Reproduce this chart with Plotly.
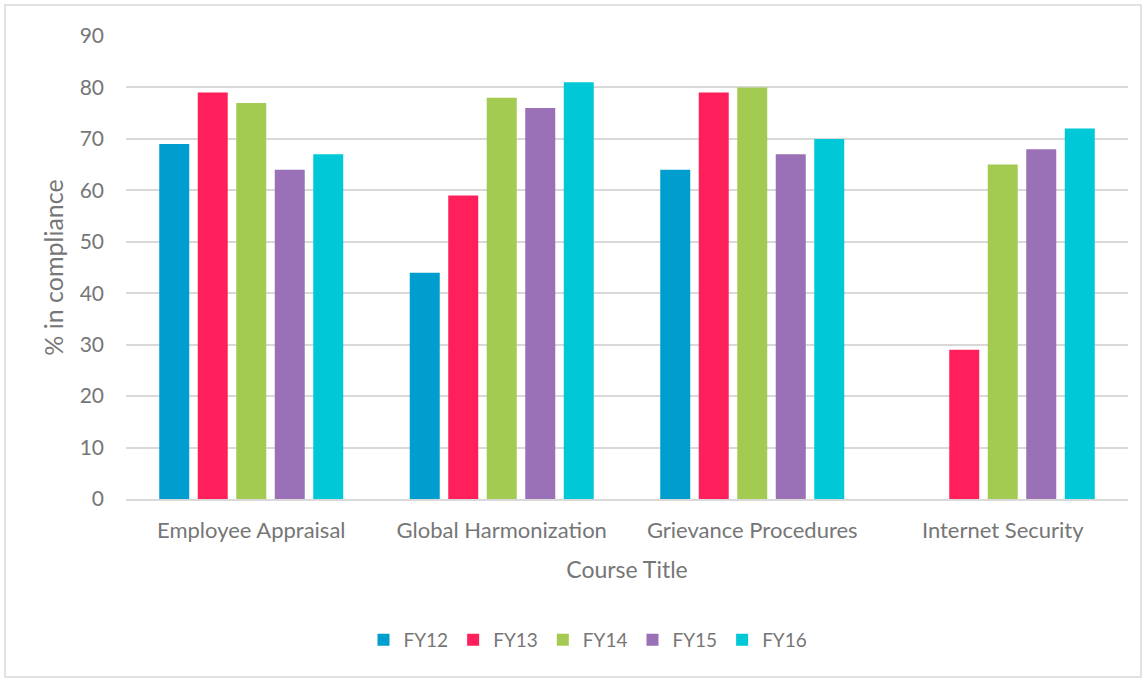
import plotly.graph_objects as go

courses = ["Employee Appraisal", "Global Harmonization", "Grievance Procedures", "Internet Security"]
fy12 = [69, 44, 64, None]
fy13 = [79, 59, 79, 29]
fy14 = [77, 78, 80, 65]
fy15 = [64, 76, 67, 68]
fy16 = [67, 81, 70, 72]

series = [
    ("FY12", fy12, "#009DCF"),
    ("FY13", fy13, "#FF1F5A"),
    ("FY14", fy14, "#A3CB52"),
    ("FY15", fy15, "#9A71B6"),
    ("FY16", fy16, "#00C8D6"),
]

W, H = 1147, 681
ml, mr, mt, mb = 126, 19, 36, 182
pw, ph = W - ml - mr, H - mt - mb

fig = go.Figure()
for name, vals, color in series:
    fig.add_trace(go.Bar(x=courses, y=vals, name=name, marker_color=color,
                         marker_line_width=0))

text_color = "#767676"
font_family = "Lato, Open Sans, sans-serif"

# outer chart frame
def px_x(p):
    return (p - ml) / pw

def px_y(p):
    return (H - mb - p) / ph

fig.add_shape(type="rect", xref="paper", yref="paper",
              x0=px_x(5), x1=px_x(1141), y0=px_y(677), y1=px_y(5),
              line=dict(color="#D9D9D9", width=1.5), fillcolor="rgba(0,0,0,0)",
              layer="below")

fig.update_layout(
    width=W, height=H,
    margin=dict(l=ml, r=mr, t=mt, b=mb),
    paper_bgcolor="white", plot_bgcolor="white",
    barmode="group", bargap=0.2315, bargroupgap=0.221,
    font=dict(family=font_family, color=text_color, size=20),
    legend=dict(orientation="h", x=px_x(588), xanchor="center", y=px_y(640), yanchor="middle",
                font=dict(size=19, color=text_color), itemwidth=30,
                traceorder="normal"),
    xaxis=dict(title=dict(text="Course Title", font=dict(size=23, color=text_color), standoff=20),
               tickfont=dict(size=22, color=text_color), showline=True,
               linecolor="#D9D9D9", linewidth=1.5, ticks="", showgrid=False,
               ticklabelstandoff=11),
    yaxis=dict(title=dict(text="% in compliance", font=dict(size=25, color=text_color), standoff=8),
               range=[0, 90], dtick=10, tickfont=dict(size=21, color=text_color),
               gridcolor="#D9D9D9", gridwidth=1.5, zeroline=False, ticks="",
               showline=False, ticklabelstandoff=21),
)

fig.write_html("out.html")
